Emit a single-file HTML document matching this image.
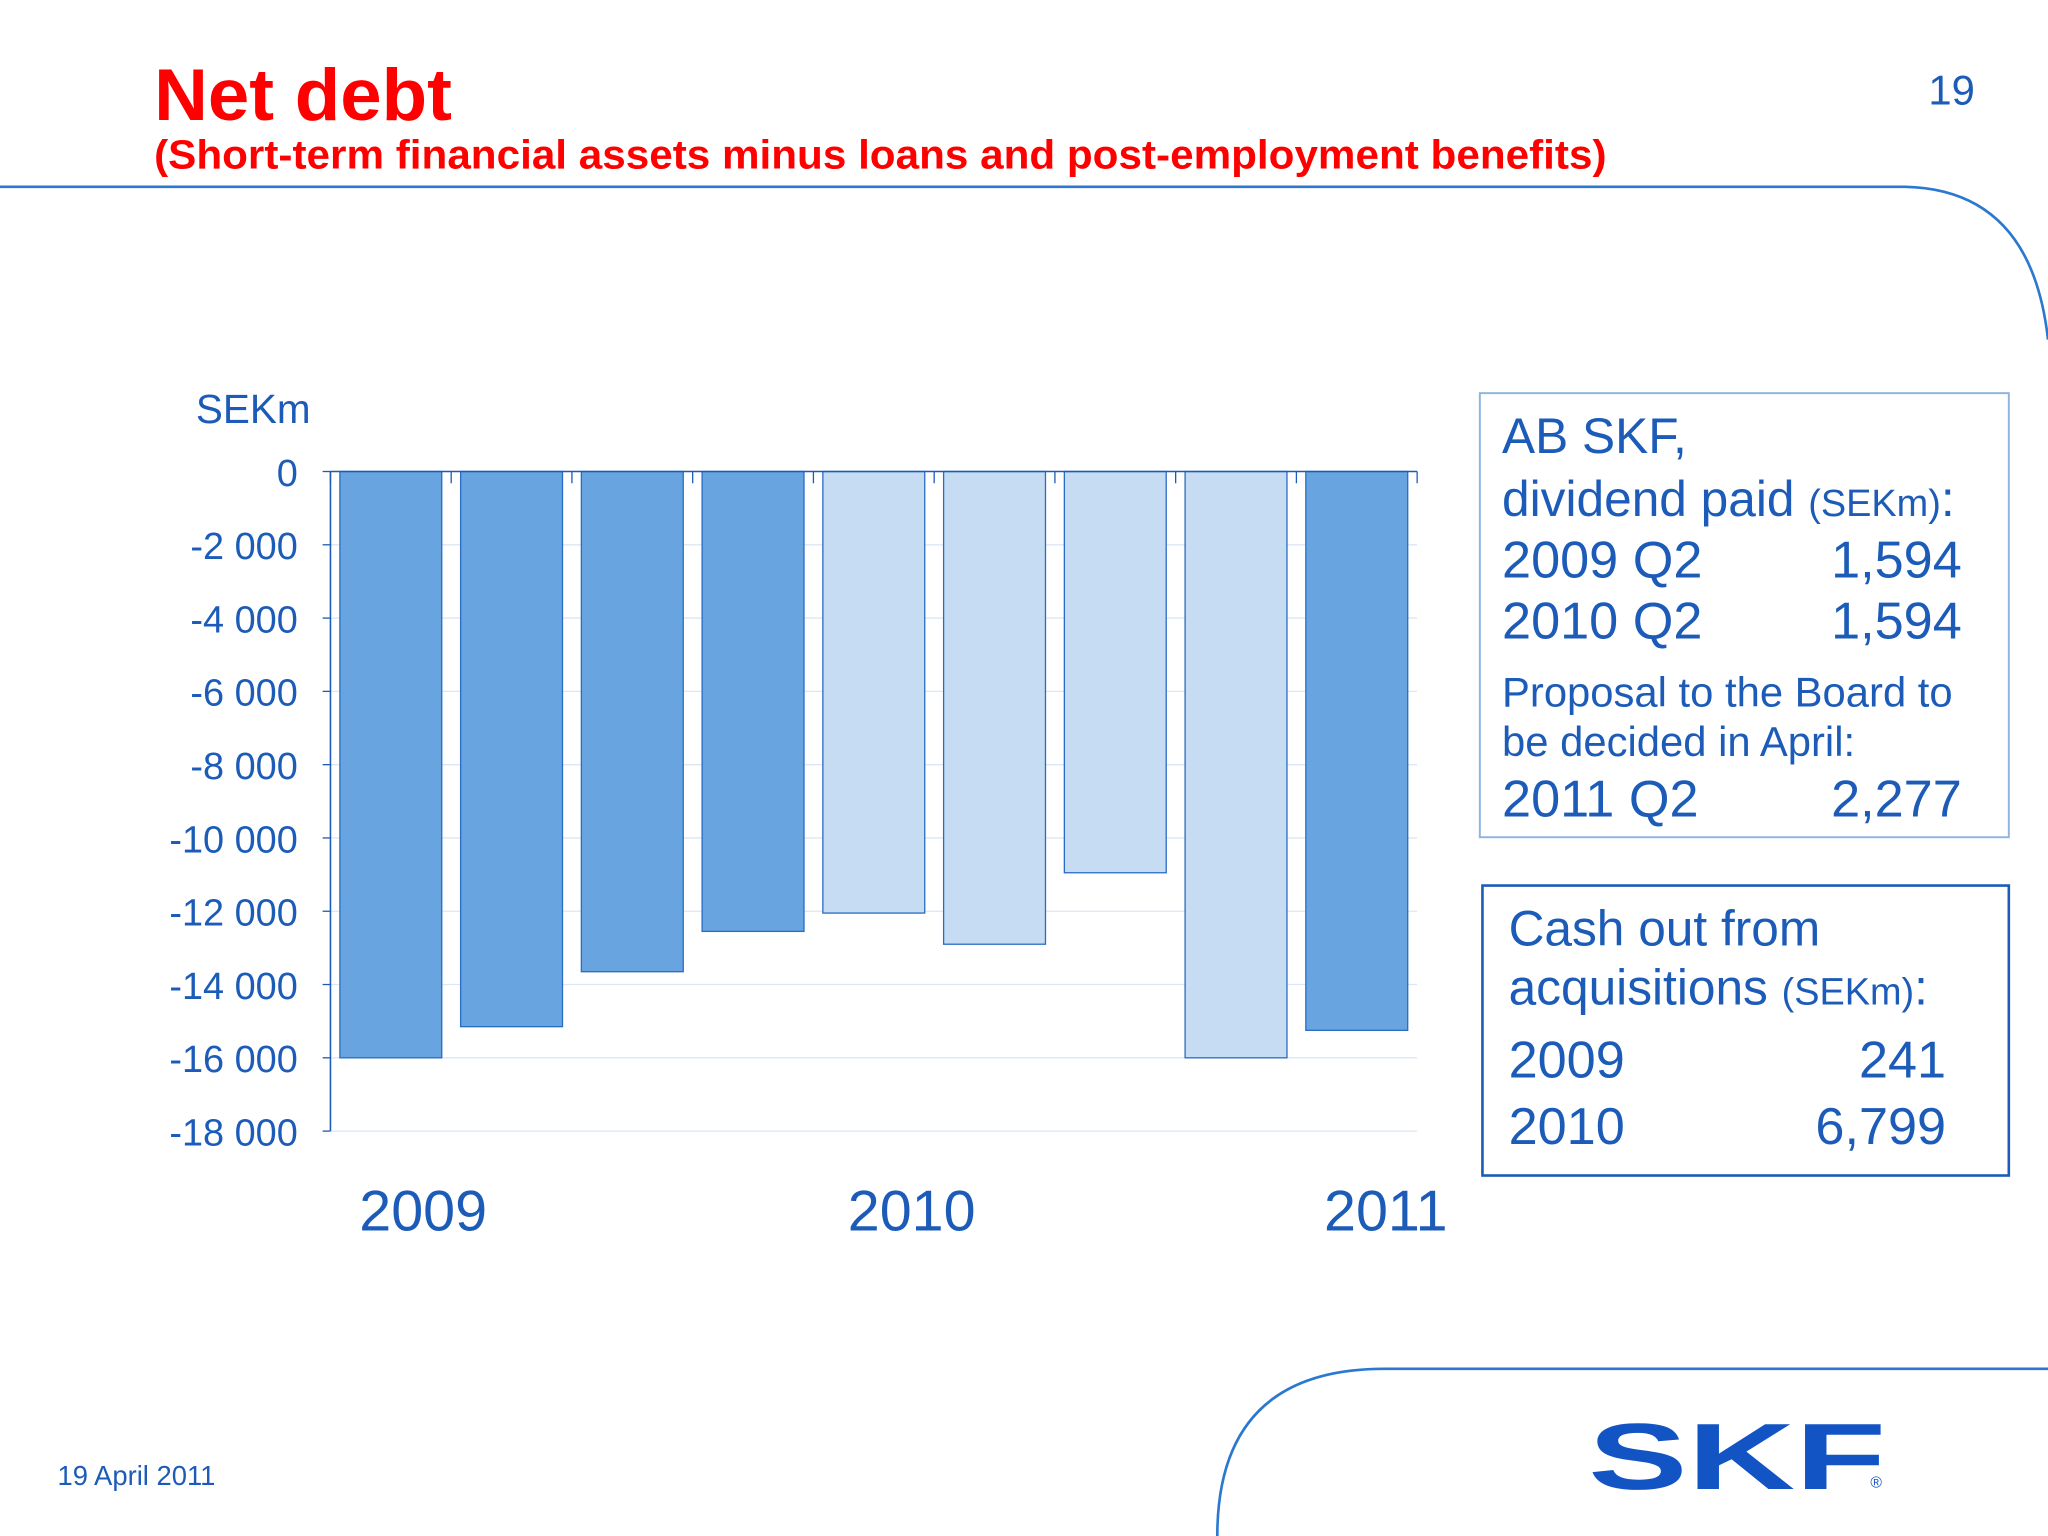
<!DOCTYPE html>
<html><head><meta charset="utf-8"><style>
html,body{margin:0;padding:0;background:#fff;}
svg{display:block;font-family:"Liberation Sans",sans-serif;}
</style></head><body>
<svg width="2048" height="1536" viewBox="0 0 1568 1176" xmlns="http://www.w3.org/2000/svg">
<text x="118" y="92" fill="#ff0000" font-size="56" font-weight="bold" textLength="228" lengthAdjust="spacingAndGlyphs">Net debt</text>
<text x="118" y="129" fill="#ff0000" font-size="31" font-weight="bold" textLength="1112" lengthAdjust="spacingAndGlyphs">(Short-term financial assets minus loans and post-employment benefits)</text>
<text x="1512" y="80" fill="#1c5cb8" font-size="32" text-anchor="end">19</text>
<path d="M0 143 H1455 Q1555 143 1568 260" fill="none" stroke="#2a78cf" stroke-width="2"/>
<path d="M932 1176 Q932 1048 1060 1048 H1568" fill="none" stroke="#2a78cf" stroke-width="2"/>
<text x="44" y="1137" fill="#1c5cb8" font-size="21">19 April 2011</text>
<text x="1216" y="1140" fill="#1254c4" font-size="72" font-weight="bold" textLength="228" lengthAdjust="spacingAndGlyphs">SKF</text>
<text x="1432" y="1139" fill="#1254c4" font-size="12">®</text>
<text x="150" y="324" fill="#1c5cb8" font-size="31">SEKm</text>
<g id="chart"></g>
<text x="324" y="942" fill="#1c5cb8" font-size="44" text-anchor="middle">2009</text>
<text x="698" y="942" fill="#1c5cb8" font-size="44" text-anchor="middle">2010</text>
<text x="1061" y="942" fill="#1c5cb8" font-size="44" text-anchor="middle">2011</text>
<g fill="#1c5cb8">
<rect x="1133" y="301" width="405" height="340" fill="none" stroke="#8fb4e0" stroke-width="1.5"/>
<text x="1150" y="347" font-size="38">AB SKF,</text>
<text x="1150" y="395" font-size="38">dividend paid <tspan font-size="29">(SEKm)</tspan>:</text>
<text x="1150" y="442" font-size="40">2009 Q2</text><text x="1502" y="442" font-size="40" text-anchor="end">1,594</text>
<text x="1150" y="489" font-size="40">2010 Q2</text><text x="1502" y="489" font-size="40" text-anchor="end">1,594</text>
<text x="1150" y="541" font-size="32">Proposal to the Board to</text>
<text x="1150" y="579" font-size="32">be decided in April:</text>
<text x="1150" y="625" font-size="40">2011 Q2</text><text x="1502" y="625" font-size="40" text-anchor="end">2,277</text>
</g>
<g fill="#1c5cb8">
<rect x="1135" y="678" width="403" height="222" fill="none" stroke="#1c5cb8" stroke-width="2"/>
<text x="1155" y="724" font-size="38">Cash out from</text>
<text x="1155" y="769" font-size="38">acquisitions <tspan font-size="29">(SEKm)</tspan>:</text>
<text x="1155" y="825" font-size="40">2009</text><text x="1490" y="825" font-size="40" text-anchor="end">241</text>
<text x="1155" y="876" font-size="40">2010</text><text x="1490" y="876" font-size="40" text-anchor="end">6,799</text>
</g>
</svg>
<script>
const quarters=['2009Q1','2009Q2','2009Q3','2009Q4','2010Q1','2010Q2','2010Q3','2010Q4','2011Q1'];
const netDebt=[-16000,-15150,-13650,-12550,-12050,-12900,-10950,-16000,-15250];
const shade=['dark','dark','dark','dark','light','light','light','light','dark'];
const yTicks=[0,-2000,-4000,-6000,-8000,-10000,-12000,-14000,-16000,-18000];
const yTickLabels=['0','-2 000','-4 000','-6 000','-8 000','-10 000','-12 000','-14 000','-16 000','-18 000'];
const NS='http://www.w3.org/2000/svg';
const g=document.getElementById('chart');
const x0=253,x1=1085,yTop=361,yBot=866;
function y(v){return yTop+(0-v)/18000*(yBot-yTop);}
const slot=(x1-x0)/quarters.length;
function xs(i){return x0+i*slot;}
function mk(t,a){const e=document.createElementNS(NS,t);for(const k in a)e.setAttribute(k,a[k]);g.appendChild(e);return e;}
yTicks.forEach((v,i)=>{
  const l=mk('line',{x1:x0,x2:x1,y1:y(v),y2:y(v),stroke:'#dbe7f4','stroke-width':1});
  
  
  const tk=mk('line',{x1:x0-6,x2:x0,y1:y(v),y2:y(v),stroke:'#1c5cb8','stroke-width':1});
  
  
  const t=mk('text',{x:228,y:y(v)+11,fill:'#1c5cb8','font-size':29,'text-anchor':'end'});
  t.textContent=yTickLabels[i];
  
  
});
const ax=mk('line',{x1:x0,x2:x0,y1:yTop,y2:yBot,stroke:'#1c5cb8','stroke-width':1.2});


quarters.forEach((q,i)=>{
  const bx=xs(i)+(slot-78)/2;
  const r=mk('rect',{x:bx,y:y(0),width:78,height:y(netDebt[i])-y(0),fill:shade[i]==='dark'?'#68a5e0':'#c5dcf2',stroke:'#2a6cc4','stroke-width':1});
  
  
});
for(let i=0;i<=quarters.length;i++){
  const tk=mk('line',{x1:xs(i),x2:xs(i),y1:yTop,y2:yTop+9,stroke:'#1c5cb8','stroke-width':1});
  
  
}
const xa=mk('line',{x1:x0,x2:x1,y1:yTop,y2:yTop,stroke:'#1c5cb8','stroke-width':1.2});


</script>
</body></html>
